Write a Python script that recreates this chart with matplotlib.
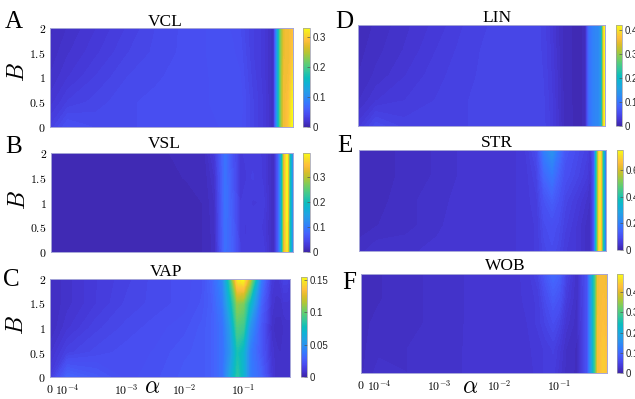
import numpy as np
import matplotlib
matplotlib.use('Agg')
import matplotlib.pyplot as plt
from matplotlib.colors import LinearSegmentedColormap, Normalize
from matplotlib.cm import ScalarMappable

# ---------------- data ----------------
ALPHA = [0, 1e-4, 3e-4, 1e-3, 3e-3, 1e-2, 2e-2, 3e-2, 0.045, 0.06, 0.08,
         0.1, 0.13, 0.2, 0.3, 0.35, 0.4, 0.45, 0.5, 0.55, 0.63]
B_VALS = [0, 0.5, 1, 1.5, 2]

VCL = [
    [0.030, 0.045, 0.040, 0.040, 0.042, 0.043, 0.044, 0.044, 0.045, 0.048, 0.046, 0.040, 0.034, 0.025, 0.010, 0.120, 0.230, 0.280, 0.285, 0.300, 0.330],
    [0.020, 0.030, 0.035, 0.040, 0.042, 0.043, 0.044, 0.045, 0.046, 0.048, 0.047, 0.041, 0.034, 0.025, 0.010, 0.120, 0.230, 0.280, 0.285, 0.295, 0.325],
    [0.015, 0.022, 0.030, 0.037, 0.040, 0.043, 0.044, 0.045, 0.046, 0.046, 0.045, 0.039, 0.032, 0.024, 0.010, 0.120, 0.230, 0.280, 0.280, 0.285, 0.310],
    [0.012, 0.018, 0.025, 0.033, 0.038, 0.042, 0.044, 0.046, 0.046, 0.045, 0.043, 0.037, 0.030, 0.024, 0.010, 0.120, 0.230, 0.275, 0.280, 0.280, 0.295],
    [0.010, 0.015, 0.022, 0.030, 0.037, 0.042, 0.044, 0.046, 0.045, 0.044, 0.041, 0.035, 0.030, 0.024, 0.010, 0.120, 0.230, 0.275, 0.280, 0.280, 0.290],
]
VSL = [
    [0.008, 0.008, 0.008, 0.008, 0.008, 0.008, 0.009, 0.015, 0.085, 0.070, 0.035, 0.032, 0.035, 0.032, 0.010, 0.060, 0.130, 0.330, 0.380, 0.200, 0.090],
    [0.008, 0.008, 0.008, 0.008, 0.008, 0.008, 0.009, 0.016, 0.088, 0.068, 0.033, 0.030, 0.035, 0.030, 0.010, 0.060, 0.130, 0.330, 0.385, 0.200, 0.090],
    [0.008, 0.008, 0.008, 0.008, 0.008, 0.008, 0.009, 0.018, 0.090, 0.065, 0.030, 0.035, 0.030, 0.032, 0.010, 0.060, 0.130, 0.330, 0.390, 0.200, 0.090],
    [0.008, 0.008, 0.008, 0.008, 0.008, 0.009, 0.010, 0.022, 0.090, 0.060, 0.028, 0.030, 0.036, 0.030, 0.010, 0.060, 0.130, 0.330, 0.390, 0.200, 0.090],
    [0.008, 0.008, 0.008, 0.008, 0.008, 0.010, 0.012, 0.030, 0.090, 0.055, 0.030, 0.032, 0.034, 0.030, 0.010, 0.060, 0.130, 0.330, 0.390, 0.200, 0.090],
]
VAP = [
    [0.012, 0.030, 0.025, 0.020, 0.022, 0.025, 0.025, 0.028, 0.035, 0.060, 0.085, 0.070, 0.040, 0.030, 0.012, 0.008, 0.007, 0.007, 0.007, 0.008, 0.008],
    [0.008, 0.015, 0.018, 0.020, 0.021, 0.024, 0.025, 0.028, 0.035, 0.050, 0.080, 0.070, 0.040, 0.025, 0.010, 0.008, 0.007, 0.007, 0.007, 0.008, 0.008],
    [0.005, 0.010, 0.015, 0.018, 0.020, 0.022, 0.025, 0.028, 0.035, 0.055, 0.095, 0.090, 0.050, 0.025, 0.008, 0.006, 0.006, 0.006, 0.007, 0.008, 0.008],
    [0.005, 0.008, 0.012, 0.016, 0.018, 0.020, 0.023, 0.028, 0.040, 0.070, 0.110, 0.105, 0.075, 0.030, 0.010, 0.008, 0.008, 0.008, 0.010, 0.010, 0.010],
    [0.005, 0.008, 0.012, 0.015, 0.018, 0.020, 0.022, 0.030, 0.045, 0.090, 0.150, 0.155, 0.120, 0.040, 0.012, 0.010, 0.010, 0.012, 0.015, 0.015, 0.012],
]
LIN = [
    [0.030, 0.050, 0.040, 0.038, 0.042, 0.046, 0.047, 0.047, 0.047, 0.044, 0.036, 0.026, 0.014, 0.008, 0.010, 0.090, 0.110, 0.120, 0.120, 0.140, 0.420],
    [0.018, 0.028, 0.033, 0.038, 0.042, 0.046, 0.047, 0.047, 0.046, 0.043, 0.035, 0.025, 0.013, 0.008, 0.010, 0.090, 0.110, 0.120, 0.120, 0.140, 0.420],
    [0.014, 0.020, 0.028, 0.036, 0.041, 0.045, 0.047, 0.047, 0.046, 0.042, 0.033, 0.024, 0.012, 0.008, 0.010, 0.090, 0.110, 0.120, 0.120, 0.140, 0.420],
    [0.012, 0.017, 0.024, 0.033, 0.040, 0.045, 0.046, 0.046, 0.045, 0.041, 0.032, 0.022, 0.012, 0.008, 0.010, 0.090, 0.110, 0.120, 0.120, 0.140, 0.420],
    [0.010, 0.015, 0.022, 0.030, 0.038, 0.044, 0.046, 0.046, 0.045, 0.040, 0.030, 0.020, 0.012, 0.008, 0.010, 0.090, 0.110, 0.120, 0.120, 0.140, 0.420],
]
STR = [
    [0.030, 0.040, 0.040, 0.045, 0.050, 0.050, 0.050, 0.055, 0.060, 0.080, 0.090, 0.080, 0.060, 0.050, 0.030, 0.030, 0.110, 0.400, 0.720, 0.400, 0.120],
    [0.020, 0.025, 0.030, 0.040, 0.050, 0.050, 0.050, 0.055, 0.060, 0.090, 0.100, 0.090, 0.070, 0.050, 0.030, 0.030, 0.110, 0.400, 0.720, 0.400, 0.120],
    [0.020, 0.022, 0.030, 0.040, 0.045, 0.050, 0.050, 0.055, 0.065, 0.110, 0.130, 0.110, 0.080, 0.060, 0.040, 0.030, 0.110, 0.400, 0.720, 0.400, 0.120],
    [0.020, 0.020, 0.028, 0.035, 0.045, 0.050, 0.050, 0.055, 0.075, 0.150, 0.180, 0.140, 0.100, 0.080, 0.060, 0.040, 0.110, 0.400, 0.720, 0.400, 0.120],
    [0.020, 0.020, 0.028, 0.035, 0.045, 0.050, 0.050, 0.060, 0.090, 0.200, 0.240, 0.180, 0.120, 0.090, 0.070, 0.050, 0.110, 0.400, 0.720, 0.400, 0.120],
]
WOB = [
    [0.015, 0.025, 0.022, 0.025, 0.028, 0.030, 0.030, 0.030, 0.035, 0.040, 0.040, 0.030, 0.020, 0.015, 0.070, 0.170, 0.280, 0.420, 0.430, 0.445, 0.430],
    [0.015, 0.020, 0.022, 0.025, 0.028, 0.030, 0.030, 0.032, 0.035, 0.040, 0.045, 0.035, 0.022, 0.015, 0.070, 0.170, 0.280, 0.420, 0.430, 0.440, 0.425],
    [0.015, 0.018, 0.020, 0.024, 0.028, 0.030, 0.030, 0.033, 0.040, 0.050, 0.060, 0.050, 0.030, 0.018, 0.070, 0.170, 0.280, 0.420, 0.425, 0.430, 0.420],
    [0.015, 0.016, 0.020, 0.024, 0.028, 0.030, 0.031, 0.035, 0.040, 0.060, 0.080, 0.070, 0.040, 0.020, 0.070, 0.170, 0.280, 0.415, 0.420, 0.425, 0.415],
    [0.015, 0.016, 0.020, 0.024, 0.028, 0.030, 0.032, 0.035, 0.050, 0.080, 0.100, 0.090, 0.050, 0.022, 0.070, 0.170, 0.280, 0.415, 0.420, 0.420, 0.410],
]

TITLES = ['VCL', 'VSL', 'VAP', 'LIN', 'STR', 'WOB']
LETTERS = ['A', 'B', 'C', 'D', 'E', 'F']
VMAX = [0.33, 0.395, 0.155, 0.42, 0.75, 0.49]
CB_TICKS = [[0, 0.1, 0.2, 0.3], [0, 0.1, 0.2, 0.3], [0, 0.05, 0.1, 0.15],
            [0, 0.1, 0.2, 0.3, 0.4], [0, 0.2, 0.4, 0.6], [0, 0.1, 0.2, 0.3, 0.4]]
X_TICK_POS = [-4.3, -4, -3, -2, -1]
X_TICK_LABELS = ['$0$', '$10^{-4}$', '$10^{-3}$', '$10^{-2}$', '$10^{-1}$']
Y_TICKS = [0, 0.5, 1, 1.5, 2]
Y_TICK_LABELS = ['$0$', '$0.5$', '$1$', '$1.5$', '$2$']

# ---------------- colormap (parula) ----------------
PARULA = [
    (0.2422, 0.1504, 0.6603), (0.2704, 0.2138, 0.8346), (0.2813, 0.2985, 0.9397),
    (0.2710, 0.3860, 0.9898), (0.2006, 0.4803, 0.9906), (0.1716, 0.5655, 0.9393),
    (0.1321, 0.6363, 0.8932), (0.0628, 0.6972, 0.8355), (0.0504, 0.7423, 0.7359),
    (0.1954, 0.7765, 0.6225), (0.3301, 0.8002, 0.4876), (0.5044, 0.7993, 0.3480),
    (0.7091, 0.7727, 0.1998), (0.8703, 0.7392, 0.1615), (0.9966, 0.7458, 0.2351),
    (0.9694, 0.8591, 0.1665), (0.9769, 0.9839, 0.0805)]
cmap = LinearSegmentedColormap.from_list('parula', PARULA, N=256)

plt.rcParams['mathtext.fontset'] = 'cm'

W, H = 635, 399
fig = plt.figure(figsize=(W / 100, H / 100), dpi=100)


def box(x0, y0, x1, y1):
    return [x0 / W, 1 - y1 / H, (x1 - x0) / W, (y1 - y0) / H]


X0 = -4.3
xpos = np.array([np.log10(a) if a > 0 else X0 for a in ALPHA])
Xg, Yg = np.meshgrid(xpos, np.array(B_VALS))

AX_BOX = [(50, 28, 293, 127), (51, 153, 293, 252), (50, 279, 290, 377),
          (358, 25, 605, 126), (359, 150, 606, 251), (361, 274, 607, 373)]
CB_BOX = [(303, 28, 310, 127), (303, 153, 310, 252), (301, 277, 307, 377),
          (616, 25, 622, 126), (617, 150, 623, 250), (617, 274, 623, 373)]
TITLE_XY = [(165, 26), (164, 148), (166, 276), (497, 22), (497, 147), (505, 270)]
LETTER_XY = [(5, 28), (5, 153), (3, 286), (335, 28), (337, 152), (342, 289)]
YLAB_XY = [(17, 72), (18, 200), (16, 325)]
XLAB_XY = [(152, 386), (470, 386)]

DATA = [VCL, VSL, VAP, LIN, STR, WOB]
frame_col = '#a6a6d8'

for i in range(6):
    Z = np.array(DATA[i])
    vmax = VMAX[i]
    norm = Normalize(0, vmax)
    ax = fig.add_axes(box(*AX_BOX[i]))
    cs = ax.contourf(Xg, Yg, Z, levels=np.linspace(0, vmax, 90), cmap=cmap,
                     norm=norm, extend='max')
    cs.set_edgecolor('face')
    cs.set_linewidth(0.3)
    ax.set_xlim(X0, -0.2)
    ax.set_ylim(0, 2)
    for s in ax.spines.values():
        s.set_color(frame_col)
        s.set_linewidth(0.7)
    ax.tick_params(length=0)
    ax.set_xticks(X_TICK_POS)
    ax.set_yticks(Y_TICKS)
    if i in (2, 5):
        ax.set_xticklabels(X_TICK_LABELS, fontsize=8.5)
        ax.tick_params(axis='x', pad=4)
    else:
        ax.set_xticklabels([])
    if i < 3:
        ax.set_yticklabels(Y_TICK_LABELS, fontsize=8.5)
        ax.tick_params(axis='y', pad=3)
    else:
        ax.set_yticklabels([])

    cax = fig.add_axes(box(*CB_BOX[i]))
    cb = fig.colorbar(ScalarMappable(norm=norm, cmap=cmap), cax=cax,
                      ticks=CB_TICKS[i])
    cb.ax.set_yticklabels(['0' if t == 0 else ('%g' % t) for t in CB_TICKS[i]])
    cb.outline.set_edgecolor('#9a9aa8')
    cb.outline.set_linewidth(0.5)
    cax.tick_params(labelsize=7, length=2, width=0.5, direction='in',
                    pad=2, colors='#555555', labelcolor='#262626')
    for t in cax.get_yticklabels():
        t.set_fontfamily('Liberation Sans')

    tx, ty = TITLE_XY[i]
    fig.text(tx / W, 1 - ty / H, TITLES[i], ha='center', va='baseline',
             fontsize=12.5, family='Liberation Serif')
    lx, ly = LETTER_XY[i]
    fig.text(lx / W, 1 - ly / H, LETTERS[i], ha='left', va='baseline',
             fontsize=18, family='Liberation Serif')

for (x, y) in YLAB_XY:
    fig.text(x / W, 1 - y / H, '$B$', rotation=90, ha='center', va='center',
             fontsize=17)
for (x, y) in XLAB_XY:
    fig.text(x / W, 1 - y / H, r'$\alpha$', ha='center', va='center',
             fontsize=17)

fig.savefig('out.png', dpi=100)
